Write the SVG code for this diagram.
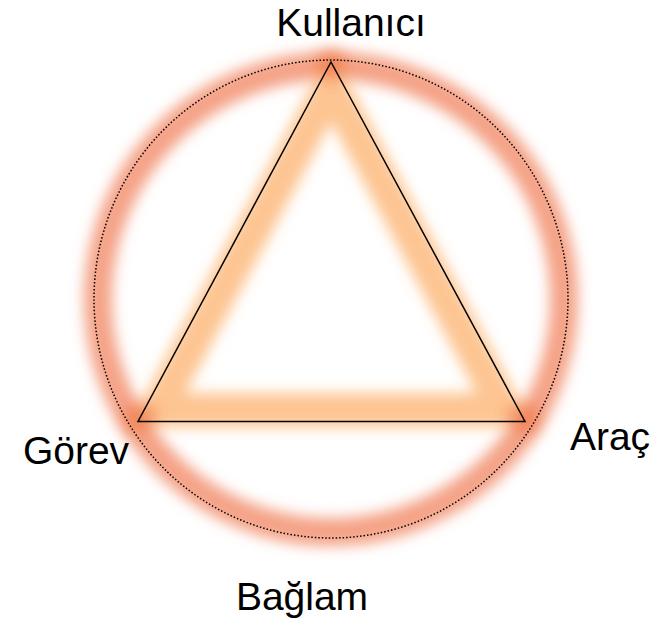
<svg xmlns="http://www.w3.org/2000/svg" width="662" height="622" viewBox="0 0 662 622">
<defs>
<filter id="blur" x="-20%" y="-20%" width="140%" height="140%"><feGaussianBlur stdDeviation="7"/></filter>
<filter id="blur2" x="-50%" y="-50%" width="200%" height="200%"><feGaussianBlur stdDeviation="8"/></filter>
<style>
.lbl{font-family:"Liberation Sans",Arial,sans-serif;font-size:39px;fill:#000;text-anchor:middle}
</style>
</defs>
<rect width="662" height="622" fill="#fff"/>
<g id="glow">
<circle cx="331" cy="299" r="233" fill="none" stroke="#f4a286" stroke-width="28" filter="url(#blur)"/>
<polygon points="331,86 157,410 505,410" fill="none" stroke="#fdc592" stroke-width="34" stroke-linejoin="round" filter="url(#blur)"/>
<circle cx="331" cy="66" r="15" fill="#f07a48" filter="url(#blur2)" opacity="0.8"/>
<circle cx="140" cy="418" r="15" fill="#f07a48" filter="url(#blur2)" opacity="0.8"/>
<circle cx="523" cy="418" r="15" fill="#f07a48" filter="url(#blur2)" opacity="0.8"/>
</g>
<g id="circle">
<ellipse cx="331" cy="299" rx="237" ry="239" fill="none" stroke="#000" stroke-width="1.5" stroke-dasharray="1.5 2"/>
</g>
<g id="connectors">
<polygon points="331,62 138,421.5 525,421.5" fill="none" stroke="#000" stroke-width="1.5"/>
</g>
<g id="kullanici"><text class="lbl" x="351" y="36">Kullanıcı</text></g>
<g id="gorev"><text class="lbl" x="76" y="464">Görev</text></g>
<g id="arac"><text class="lbl" x="610" y="450">Araç</text></g>
<g id="baglam"><text class="lbl" x="302" y="610">Bağlam</text></g>
</svg>
